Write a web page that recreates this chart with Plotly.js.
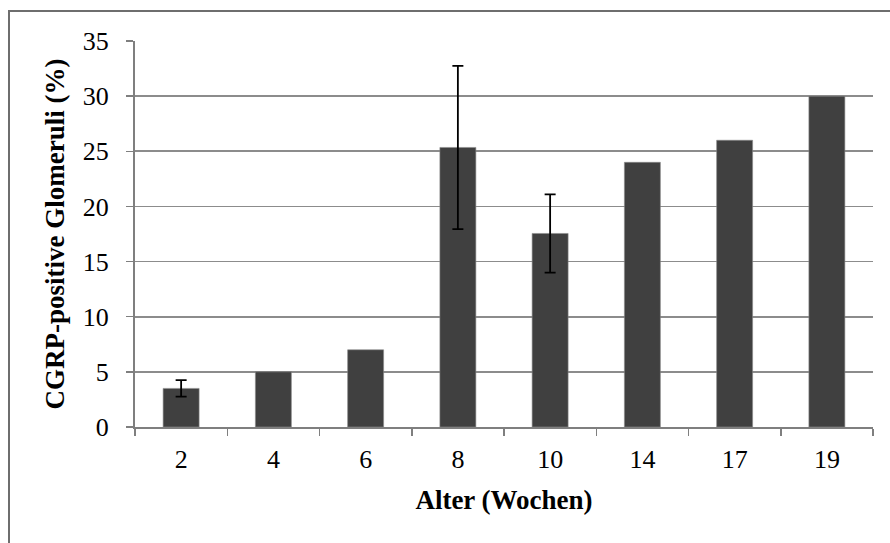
<!DOCTYPE html>
<html>
<head>
<meta charset="utf-8">
<script src="https://cdn.plot.ly/plotly-3.0.1.min.js"></script>
<style>html,body{margin:0;padding:0;background:#fff;}#chart{width:890px;height:543px;}</style>
</head>
<body>
<div id="chart"></div>
<script>
const categories = ["2", "4", "6", "8", "10", "14", "17", "19"];
const values = [3.5, 5, 7, 25.35, 17.55, 24, 26, 30];
const errors = [0.75, null, null, 7.4, 3.55, null, null, null];
const yTicks = [0, 5, 10, 15, 20, 25, 30, 35];

const fontFam = "'Liberation Serif', 'DejaVu Serif', serif";

const barTrace = {
  type: "bar",
  x: categories,
  y: values,
  marker: {color: "#404040", line: {color: "#8a8a8a", width: 0.6}},
  width: 0.39,
  hoverinfo: "skip"
};

const errIdx = errors.map((e, i) => e === null ? -1 : i).filter(i => i >= 0);
const errTrace = {
  type: "scatter",
  mode: "markers",
  x: errIdx.map(i => categories[i]),
  y: errIdx.map(i => values[i]),
  marker: {size: 0.1, color: "rgba(0,0,0,0)"},
  error_y: {
    type: "data",
    array: errIdx.map(i => errors[i]),
    visible: true,
    color: "#000000",
    thickness: 1.8,
    width: 5.5
  },
  hoverinfo: "skip"
};

// plot area: x 135..873, y 41..427
const L = 135, R = 890 - 873, T = 41, B = 543 - 427;
const W = 890 - L - R, H = 543 - T - B;
const px = v => (v - L) / W;
const py = v => (543 - B - v) / H;

const layout = {
  width: 890,
  height: 543,
  margin: {l: L, r: R, t: T, b: B, pad: 0},
  paper_bgcolor: "#ffffff",
  plot_bgcolor: "#ffffff",
  showlegend: false,
  font: {family: fontFam, color: "#000000", size: 26},
  xaxis: {
    type: "category",
    tickvals: categories,
    ticktext: categories,
    tickson: "boundaries",
    ticks: "outside",
    ticklen: 7,
    tickwidth: 1.5,
    tickcolor: "#7f7f7f",
    ticklabelstandoff: 8,
    showline: true,
    linecolor: "#7f7f7f",
    linewidth: 2,
    showgrid: false,
    zeroline: false,
    automargin: false,
    tickfont: {family: fontFam, size: 26, color: "#000"},
    title: {text: "Alter (Wochen)", font: {family: fontFam, size: 27, color: "#000", weight: "bold"}, standoff: 17}
  },
  yaxis: {
    range: [0, 35],
    tickvals: yTicks,
    ticktext: yTicks.map(String),
    ticks: "outside",
    ticklen: 7,
    tickwidth: 1.5,
    tickcolor: "#7f7f7f",
    ticklabelstandoff: 12,
    showline: true,
    linecolor: "#7f7f7f",
    linewidth: 2,
    showgrid: true,
    gridcolor: "#8c8c8c",
    gridwidth: 1.6,
    zeroline: false,
    automargin: false,
    tickfont: {family: fontFam, size: 26, color: "#000"},
    title: {text: "CGRP-positive Glomeruli (%)", font: {family: fontFam, size: 27, color: "#000", weight: "bold"}, standoff: 10}
  },
  shapes: [{
    type: "rect",
    xref: "paper", yref: "paper",
    x0: px(9), x1: px(900), y0: py(560), y1: py(11),
    line: {color: "#6e6e6e", width: 2},
    fillcolor: "rgba(0,0,0,0)",
    layer: "below"
  }],
  bargap: 0.61
};

Plotly.newPlot("chart", [barTrace, errTrace], layout, {displayModeBar: false, staticPlot: true});
</script>
</body>
</html>
